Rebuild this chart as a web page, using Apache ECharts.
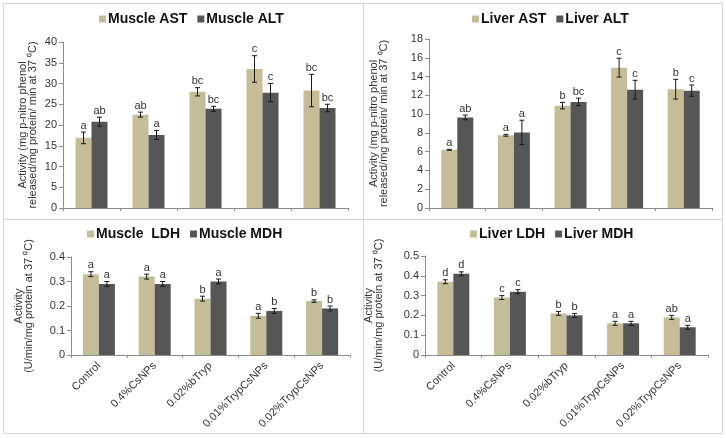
<!DOCTYPE html>
<html>
<head>
<meta charset="utf-8">
<script src="https://cdn.jsdelivr.net/npm/echarts@6/dist/echarts.min.js"></script>
<style>html,body{margin:0;padding:0;background:#fff;}#c{width:726px;height:438px;}</style>
</head>
<body>
<div id="c"></div>
<script>
const categories = ['Control', '0.4%CsNPs', '0.02%bTryp', '0.01%TrypCsNPs', '0.02%TrypCsNPs'];

const muscleAST = [16.9, 22.5, 28.0, 33.5, 28.3];
const muscleASTErr = [1.4, 0.6, 1.0, 3.2, 3.9];
const muscleASTSig = ['a', 'ab', 'bc', 'c', 'bc'];
const muscleALT = [20.8, 17.6, 23.9, 27.8, 24.1];
const muscleALTErr = [1.1, 1.1, 0.6, 2.2, 0.9];
const muscleALTSig = ['ab', 'a', 'bc', 'c', 'bc'];

const liverAST = [6.2, 7.75, 10.9, 14.95, 12.65];
const liverASTErr = [0.05, 0.1, 0.35, 1.0, 1.05];
const liverASTSig = ['a', 'a', 'b', 'c', 'b'];
const liverALT = [9.65, 8.05, 11.3, 12.6, 12.5];
const liverALTErr = [0.25, 1.3, 0.4, 1.0, 0.6];
const liverALTSig = ['ab', 'a', 'bc', 'c', 'c'];

const muscleLDH = [0.33, 0.32, 0.23, 0.16, 0.22];
const muscleLDHErr = [0.01, 0.01, 0.01, 0.01, 0.005];
const muscleLDHSig = ['a', 'a', 'b', 'a', 'b'];
const muscleMDH = [0.29, 0.29, 0.30, 0.18, 0.19];
const muscleMDHErr = [0.01, 0.01, 0.01, 0.01, 0.01];
const muscleMDHSig = ['a', 'a', 'a', 'b', 'b'];

const liverLDH = [0.37, 0.29, 0.21, 0.16, 0.19];
const liverLDHErr = [0.01, 0.01, 0.01, 0.01, 0.01];
const liverLDHSig = ['d', 'c', 'b', 'a', 'ab'];
const liverMDH = [0.41, 0.32, 0.20, 0.16, 0.14];
const liverMDHErr = [0.01, 0.01, 0.01, 0.01, 0.01];
const liverMDHSig = ['d', 'c', 'b', 'a', 'a'];

const yTitleTop = 'Activity (mg p-nitro phenol\nreleased/mg protein/ min at 37 \u2070C)';
const yTitleBottom = 'Activity\n(U/min/mg protein at 37 \u2070C)';

const TAN = '#c4bd97';
const DARK = '#565656';
const AXIS = '#8c8c8c';
const TXT = '#333333';
const BW = 16;

const chart = echarts.init(document.getElementById('c'), null, {renderer: 'canvas'});

const panels = [
  {grid: {left: 63, top: 42, width: 285, height: 166}, max: 40, interval: 5, names: ['Muscle AST', 'Muscle ALT'],
   a: [muscleAST, muscleASTErr, muscleASTSig], b: [muscleALT, muscleALTErr, muscleALTSig],
   legend: {left: 99, top: 12}, title: yTitleTop, nameGap: 25, showX: false},
  {grid: {left: 429, top: 39, width: 283, height: 169}, max: 18, interval: 2, names: ['Liver AST', 'Liver ALT'],
   a: [liverAST, liverASTErr, liverASTSig], b: [liverALT, liverALTErr, liverALTSig],
   legend: {left: 472, top: 12}, title: yTitleTop, nameGap: 40, showX: false},
  {grid: {left: 71, top: 257, width: 279, height: 98}, max: 0.4, interval: 0.1, names: ['Muscle  LDH', 'Muscle MDH'],
   a: [muscleLDH, muscleLDHErr, muscleLDHSig], b: [muscleMDH, muscleMDHErr, muscleMDHSig],
   legend: {left: 87, top: 227}, title: yTitleBottom, nameGap: 37, showX: true},
  {grid: {left: 425, top: 256, width: 283, height: 99}, max: 0.5, interval: 0.1, names: ['Liver LDH', 'Liver MDH'],
   a: [liverLDH, liverLDHErr, liverLDHSig], b: [liverMDH, liverMDHErr, liverMDHSig],
   legend: {left: 470, top: 227}, title: yTitleBottom, nameGap: 41, showX: true}
];

const grids = [], xAxes = [], yAxes = [], legends = [], series = [];

panels.forEach((p, i) => {
  grids.push(Object.assign({containLabel: false}, p.grid));
  xAxes.push({
    type: 'category', gridIndex: i, data: categories, boundaryGap: true,
    axisLine: {lineStyle: {color: AXIS, width: 1}},
    axisTick: {show: true, length: 3, lineStyle: {color: AXIS}},
    axisLabel: {show: p.showX, rotate: 45, fontSize: 11, color: TXT, fontFamily: 'Liberation Sans', margin: 9}
  });
  yAxes.push({
    type: 'value', gridIndex: i, min: 0, max: p.max, interval: p.interval,
    name: p.title, nameLocation: 'middle', nameGap: p.nameGap, nameRotate: 90,
    nameTextStyle: {fontSize: 11, color: TXT, fontFamily: 'Liberation Sans', lineHeight: 10},
    axisLine: {show: true, lineStyle: {color: AXIS, width: 1}},
    axisTick: {show: true, length: 4, lineStyle: {color: AXIS}},
    splitLine: {show: false},
    axisLabel: {fontSize: 11, color: TXT, fontFamily: 'Liberation Sans', margin: 6}
  });
  legends.push({
    data: p.names, left: p.legend.left, top: p.legend.top, icon: 'rect', itemWidth: 7, itemHeight: 7,
    itemGap: 10, orient: 'horizontal', selectedMode: false, padding: 0,
    textStyle: {fontSize: 14, fontWeight: 'bold', color: '#111', fontFamily: 'Liberation Sans', padding: [0, 0, 0, -3]}
  });
  [[p.names[0], p.a, TAN, -BW / 2], [p.names[1], p.b, DARK, BW / 2]].forEach(([nm, arr, col, off]) => {
    series.push({
      name: nm, type: 'bar', xAxisIndex: i, yAxisIndex: i, data: arr[0], barWidth: BW, barGap: '0%',
      itemStyle: {color: col}, animation: false
    });
    const ed = arr[0].map((v, k) => [k, v, arr[1][k], arr[2][k]]);
    series.push({
      type: 'custom', xAxisIndex: i, yAxisIndex: i, data: ed, z: 5, animation: false, silent: true,
      encode: {x: 0, y: 1},
      renderItem: function (params, api) {
        const x = api.value(0), v = api.value(1), e = api.value(2);
        const hi = api.coord([x, v + e]);
        const lo = api.coord([x, v - e]);
        const cx = hi[0] + off;
        const cap = 2.5;
        const st = {stroke: '#1a1a1a', lineWidth: 1};
        return {
          type: 'group',
          children: [
            {type: 'line', shape: {x1: cx, y1: hi[1], x2: cx, y2: lo[1]}, style: st},
            {type: 'line', shape: {x1: cx - cap, y1: hi[1], x2: cx + cap, y2: hi[1]}, style: st},
            {type: 'line', shape: {x1: cx - cap, y1: lo[1], x2: cx + cap, y2: lo[1]}, style: st},
            {type: 'text', style: {text: ed[params.dataIndex][3], x: cx, y: hi[1] - 1, textAlign: 'center', textVerticalAlign: 'bottom',
              fontSize: 11, fill: TXT, fontFamily: 'Liberation Sans'}}
          ]
        };
      }
    });
  });
});

const border = '#d4d4d4';
const option = {
  backgroundColor: '#ffffff',
  animation: false,
  grid: grids, xAxis: xAxes, yAxis: yAxes, legend: legends, series: series,
  graphic: [
    {type: 'rect', shape: {x: 3.5, y: 3.5, width: 719, height: 430}, style: {fill: 'none', stroke: border, lineWidth: 1}, silent: true},
    {type: 'line', shape: {x1: 363.5, y1: 3.5, x2: 363.5, y2: 433.5}, style: {stroke: border, lineWidth: 1}, silent: true},
    {type: 'line', shape: {x1: 3.5, y1: 219.5, x2: 722.5, y2: 219.5}, style: {stroke: border, lineWidth: 1}, silent: true}
  ]
};
chart.setOption(option);
</script>
</body>
</html>
